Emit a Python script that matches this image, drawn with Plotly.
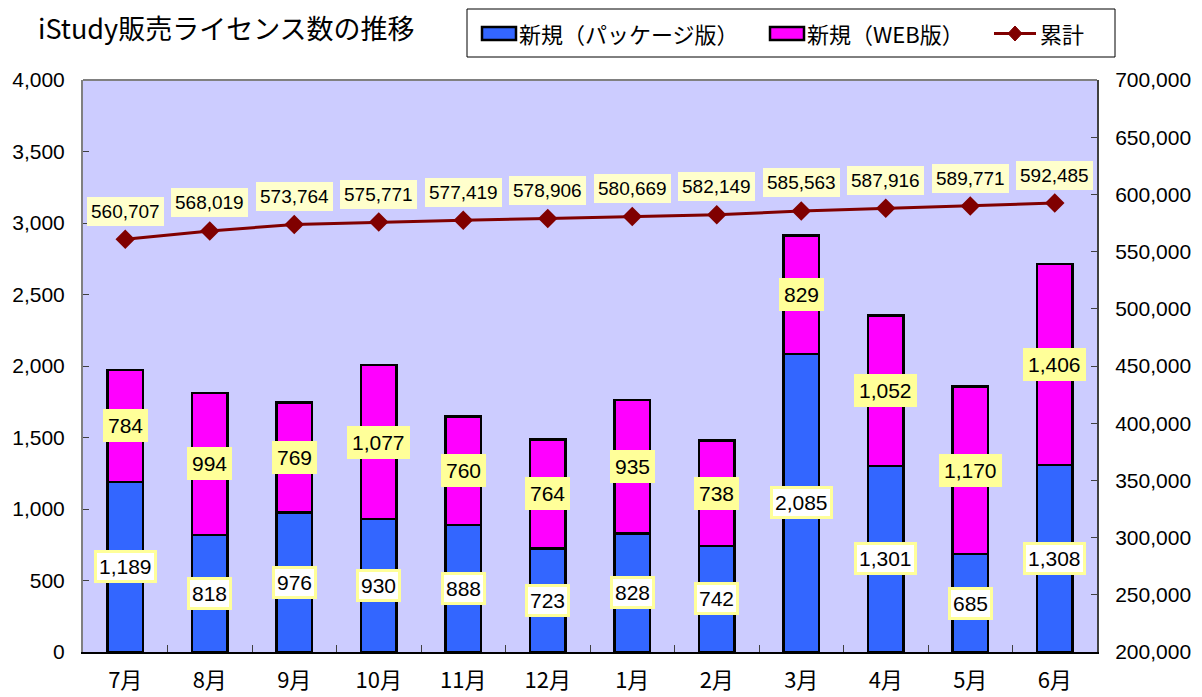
import plotly.graph_objects as go

months = ["7月", "8月", "9月", "10月", "11月", "12月", "1月", "2月", "3月", "4月", "5月", "6月"]
package = [1189, 818, 976, 930, 888, 723, 828, 742, 2085, 1301, 685, 1308]
web = [784, 994, 769, 1077, 760, 764, 935, 738, 829, 1052, 1170, 1406]
cumulative = [560707, 568019, 573764, 575771, 577419, 578906, 580669, 582149,
              585563, 587916, 589771, 592485]
series_names = ["新規（パッケージ版）", "新規（WEB版）", "累計"]
title_text = "iStudy販売ライセンス数の推移"

NUMFONT = "Liberation Sans, Arial, Noto Sans CJK JP"
JPFONT = "Noto Sans CJK JP, Liberation Sans"
BLUE, MAGENTA, DARKRED = "#3366FF", "#FF00FF", "#800000"

W, H = 1202, 697
ML, MR, MT, MB = 83, 105, 80, 45
PW, PH = W - ML - MR, H - MT - MB


def px(x):
    return (x - ML) / PW


def py(y):
    return (H - MB - y) / PH


fig = go.Figure()
fig.add_trace(go.Bar(x=months, y=package, name=series_names[0], showlegend=False,
                     marker=dict(color=BLUE, line=dict(color="black", width=2.5))))
fig.add_trace(go.Bar(x=months, y=web, name=series_names[1], showlegend=False,
                     marker=dict(color=MAGENTA, line=dict(color="black", width=2.5))))
fig.add_trace(go.Scatter(x=months, y=cumulative, name=series_names[2], yaxis="y2",
                         mode="lines+markers", showlegend=False,
                         line=dict(color=DARKRED, width=3),
                         marker=dict(symbol="diamond", size=15, color=DARKRED)))

ann = []
for m, p, w in zip(months, package, web):
    ann.append(dict(x=m, y=p / 2, xref="x", yref="y", text=f"{p:,}", showarrow=False,
                    font=dict(size=21, color="black", family=NUMFONT),
                    bgcolor="white", bordercolor="#FFFF99", borderwidth=3, borderpad=2))
    ann.append(dict(x=m, y=p + w / 2, xref="x", yref="y", text=f"{w:,}", showarrow=False,
                    font=dict(size=21, color="black", family=NUMFONT),
                    bgcolor="#FFFF99", borderwidth=0, borderpad=5))
for m, c in zip(months, cumulative):
    ann.append(dict(x=m, y=c, xref="x", yref="y2", text=f"{c:,}", showarrow=False,
                    yshift=28,
                    font=dict(size=19, color="black", family=NUMFONT),
                    bgcolor="#FFFFCC", borderwidth=0, borderpad=4))

# custom legend (box, swatches, labels)
shapes = [
    dict(type="line", xref="paper", yref="paper", x0=0, x1=1, y0=1, y1=1,
         line=dict(color="#808080", width=2)),
    dict(type="rect", xref="paper", yref="paper", x0=px(467), x1=px(1115),
         y0=py(57), y1=py(9), line=dict(color="black", width=1), fillcolor="white"),
    dict(type="rect", xref="paper", yref="paper", x0=px(482), x1=px(516),
         y0=py(40), y1=py(27), line=dict(color="black", width=2.5), fillcolor=BLUE),
    dict(type="rect", xref="paper", yref="paper", x0=px(770), x1=px(804),
         y0=py(40), y1=py(27), line=dict(color="black", width=2.5), fillcolor=MAGENTA),
    dict(type="line", xref="paper", yref="paper", x0=px(994), x1=px(1036),
         y0=py(33.5), y1=py(33.5), line=dict(color=DARKRED, width=3)),
    dict(type="path", xref="paper", yref="paper",
         path=f"M {px(1015)},{py(26)} L {px(1022)},{py(33.5)} L {px(1015)},{py(41)} "
              f"L {px(1008)},{py(33.5)} Z",
         line=dict(color=DARKRED, width=1), fillcolor=DARKRED),
]
for name, x0 in zip(series_names, [517, 805, 1038]):
    ann.append(dict(x=px(x0), y=py(33), xref="paper", yref="paper", text=name,
                    showarrow=False, xanchor="left", yanchor="middle",
                    font=dict(family=JPFONT, size=22, color="black")))

fig.update_layout(
    width=W, height=H,
    margin=dict(l=ML, r=MR, t=MT, b=MB, autoexpand=False),
    barmode="stack", bargap=0.58,
    plot_bgcolor="#CCCCFF", paper_bgcolor="white",
    font=dict(family=NUMFONT, color="black", size=21),
    showlegend=False,
    title=dict(text=title_text, x=38 / W, xanchor="left",
               xref="container", y=1 - 30 / H, yref="container", yanchor="middle",
               font=dict(family=JPFONT, size=27, color="black")),
    xaxis=dict(type="category", range=[-0.5, len(months) - 0.5],
               showline=True, linecolor="black", linewidth=2,
               ticks="inside", ticklen=7, tickcolor="#404040", tickson="boundaries",
               tickfont=dict(family=JPFONT, size=22), showgrid=False,
               automargin=False, ticklabelstandoff=8),
    yaxis=dict(range=[0, 4000], dtick=500, tickformat=",", showgrid=False,
               showline=True, linecolor="#808080", linewidth=2,
               ticks="inside", ticklen=6, tickcolor="#404040",
               tickfont=dict(size=21), zeroline=False, automargin=False,
               ticklabelstandoff=12),
    yaxis2=dict(range=[200000, 700000], dtick=50000, tickformat=",", overlaying="y",
                side="right", showgrid=False, showline=True, linecolor="#404040",
                linewidth=2, ticks="inside", ticklen=6, tickcolor="#404040",
                tickfont=dict(size=21), zeroline=False, automargin=False,
                ticklabelstandoff=12),
    annotations=ann,
    shapes=shapes,
)

fig.write_html("out.html")
